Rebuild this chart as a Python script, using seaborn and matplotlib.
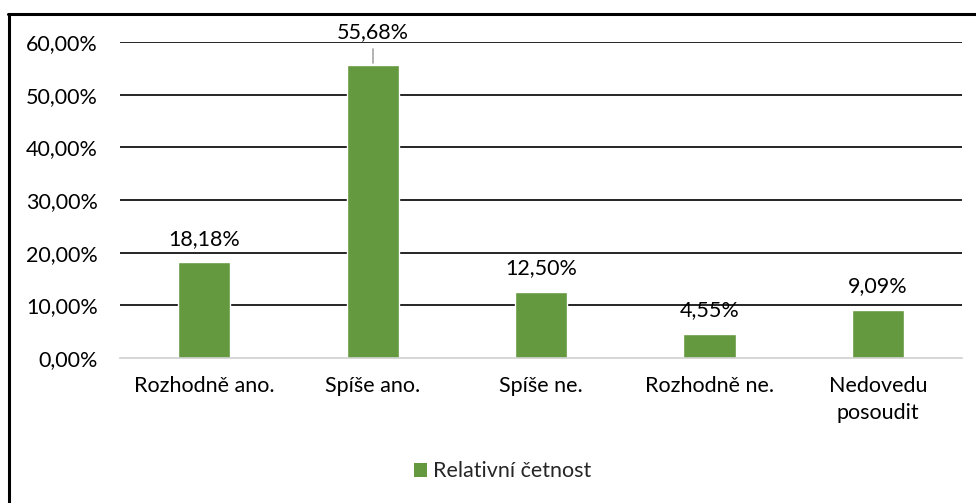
import matplotlib
matplotlib.use("Agg")
import matplotlib.pyplot as plt
import seaborn as sns
import pandas as pd
from matplotlib.patches import Rectangle
from matplotlib.lines import Line2D

categories = ["Rozhodně ano.", "Spíše ano.", "Spíše ne.", "Rozhodně ne.", "Nedovedu\nposoudit"]
values = [18.18, 55.68, 12.50, 4.55, 9.09]
labels = ["18,18%", "55,68%", "12,50%", "4,55%", "9,09%"]
yticks = [0, 10, 20, 30, 40, 50, 60]
ytick_labels = ["0,00%", "10,00%", "20,00%", "30,00%", "40,00%", "50,00%", "60,00%"]
series_name = "Relativní četnost"

sns.set_theme(style="white")
plt.rcParams['font.family'] = ['Lato', 'DejaVu Sans']

FS = 15.5
green = "#64993F"
df = pd.DataFrame({"cat": categories, "val": values})

fig = plt.figure(figsize=(9.76, 5.03), dpi=100)
ax = fig.add_axes([0.123, 0.2883, 0.8627, 0.6282])
sns.barplot(data=df, x="cat", y="val", color=green, width=0.31, saturation=1, ax=ax)

ax.set_ylim(0, 60)
ax.set_xlim(-0.5, 4.5)
ax.set_yticks(yticks)
ax.set_yticklabels(ytick_labels, fontsize=FS, color="#000000")
ax.tick_params(axis='y', length=0, pad=16)
ax.tick_params(axis='x', length=0, pad=13, labelsize=FS, labelcolor="#000000")
for t in ax.get_xticklabels():
    t.set_linespacing(1.45)
ax.set_xlabel("")
ax.set_ylabel("")
for y in yticks[1:]:
    ax.axhline(y, color="black", lw=1.2, zorder=0)
for s in ["top", "right", "left"]:
    ax.spines[s].set_visible(False)
ax.spines["bottom"].set_color("#D0D0D0")
ax.spines["bottom"].set_linewidth(1.2)

for i, (v, lab) in enumerate(zip(values, labels)):
    if v > 50:
        ax.text(i, 61.8, lab, ha="center", va="center", fontsize=FS, color="black", clip_on=False)
        ax.plot([i, i], [v + 0.3, 58.7], color="#A6A6A6", lw=1.2, clip_on=False)
    else:
        ax.annotate(lab, (i, v), xytext=(0, 17), textcoords="offset points",
                    ha="center", va="center", fontsize=FS, color="black")

# legend
handle = Rectangle((0, 0), 1, 1, facecolor=green, edgecolor="none")
fig.legend([handle], [series_name], loc="center", bbox_to_anchor=(0.515, 0.063),
           frameon=False, fontsize=FS, handlelength=0.6, handleheight=0.6,
           handletextpad=0.25)

# outer border (left, top, right extending past image)
fig.add_artist(Line2D([9 / 976, 9 / 976], [0, 1 - 13.5 / 503], transform=fig.transFigure,
                      color="black", lw=2.2))
fig.add_artist(Line2D([8 / 976, 1.0], [1 - 13.5 / 503, 1 - 13.5 / 503], transform=fig.transFigure,
                      color="black", lw=2.2))

fig.savefig("out.png", dpi=100)
